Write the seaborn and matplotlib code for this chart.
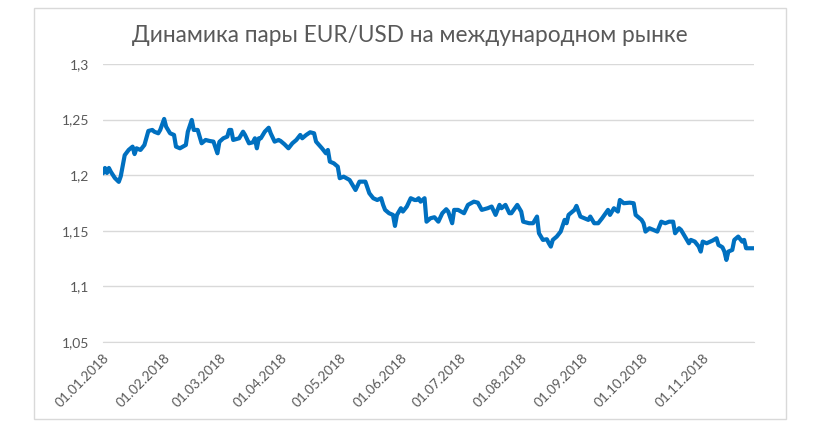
import pandas as pd
import matplotlib.pyplot as plt
import matplotlib.ticker as mticker
import seaborn as sns

# EUR/USD rate (day offset from 01.01.2018, rate)
days = [0, 1, 2, 3, 4, 6, 8, 9, 11, 13, 15, 16, 17, 19, 21, 23, 25, 26, 28, 29,
        31, 32, 34, 36, 37, 39, 42, 43, 45, 46, 48, 50, 52, 54, 56, 58, 59, 61, 63, 64,
        65, 66, 69, 71, 72, 74, 76, 77, 78, 79, 80, 82, 84, 85, 87, 89, 90, 92, 94, 96,
        98, 100, 101, 103, 105, 107, 108, 111, 113, 114, 115, 117, 119, 120, 122, 125, 127, 128, 130, 133,
        135, 137, 139, 141, 142, 143, 145, 147, 148, 149, 151, 152, 154, 156, 158, 159, 160, 161, 163, 164,
        166, 168, 170, 172, 174, 175, 177, 178, 180, 183, 185, 188, 190, 192, 195, 197, 199, 201, 202, 204,
        206, 207, 210, 212, 213, 216, 218, 220, 221, 223, 225, 226, 227, 228, 230, 232, 234, 235, 236, 239,
        240, 242, 244, 246, 247, 249, 251, 253, 256, 257, 259, 261, 262, 264, 267, 269, 270, 273, 274, 275,
        277, 279, 281, 283, 285, 287, 289, 290, 292, 293, 295, 297, 298, 300, 302, 303, 304, 306, 309, 311,
        312, 314, 315, 316, 317, 319, 320, 322, 324, 325, 326, 328, 330]
rate = [1.2017, 1.2065, 1.2020, 1.2065, 1.2030, 1.1975, 1.1940, 1.1990, 1.2180, 1.2227,
        1.2257, 1.2190, 1.2242, 1.2227, 1.2272, 1.2398, 1.2407, 1.2391, 1.2377, 1.2407,
        1.2506, 1.2436, 1.2377, 1.2362, 1.2257, 1.2242, 1.2272, 1.2391, 1.2497, 1.2407,
        1.2407, 1.2287, 1.2317, 1.2308, 1.2302, 1.2197, 1.2300, 1.2332, 1.2347, 1.2407,
        1.2407, 1.2317, 1.2332, 1.2391, 1.2362, 1.2287, 1.2296, 1.2332, 1.2242, 1.2332,
        1.2332, 1.2391, 1.2427, 1.2377, 1.2302, 1.2317, 1.2308, 1.2278, 1.2242, 1.2287,
        1.2317, 1.2362, 1.2332, 1.2362, 1.2386, 1.2377, 1.2302, 1.2242, 1.2197, 1.2227,
        1.2122, 1.2107, 1.2077, 1.1973, 1.1987, 1.1957, 1.1897, 1.1867, 1.1942, 1.1942,
        1.1838, 1.1793, 1.1777, 1.1793, 1.1733, 1.1688, 1.1658, 1.1643, 1.1544, 1.1643,
        1.1703, 1.1673, 1.1718, 1.1793, 1.1777, 1.1777, 1.1793, 1.1762, 1.1793, 1.1582,
        1.1613, 1.1622, 1.1582, 1.1658, 1.1694, 1.1673, 1.1568, 1.1688, 1.1688, 1.1658,
        1.1733, 1.1762, 1.1753, 1.1688, 1.1703, 1.1718, 1.1643, 1.1733, 1.1703, 1.1733,
        1.1658, 1.1658, 1.1733, 1.1673, 1.1582, 1.1568, 1.1568, 1.1628, 1.1478, 1.1418,
        1.1424, 1.1388, 1.1358, 1.1418, 1.1448, 1.1493, 1.1598, 1.1568, 1.1643, 1.1688,
        1.1724, 1.1628, 1.1613, 1.1598, 1.1628, 1.1568, 1.1568, 1.1613, 1.1688, 1.1643,
        1.1703, 1.1673, 1.1777, 1.1748, 1.1753, 1.1748, 1.1643, 1.1598, 1.1568, 1.1493,
        1.1523, 1.1508, 1.1493, 1.1582, 1.1568, 1.1582, 1.1582, 1.1478, 1.1523, 1.1508,
        1.1448, 1.1388, 1.1418, 1.1403, 1.1358, 1.1313, 1.1403, 1.1388, 1.1412, 1.1433,
        1.1373, 1.1352, 1.1313, 1.1238, 1.1313, 1.1328, 1.1418, 1.1448, 1.1403, 1.1418,
        1.1343, 1.1343, 1.1343]

month_ticks = ['01.01.2018', '01.02.2018', '01.03.2018', '01.04.2018', '01.05.2018', '01.06.2018',
               '01.07.2018', '01.08.2018', '01.09.2018', '01.10.2018', '01.11.2018']
y_ticks = [1.05, 1.1, 1.15, 1.2, 1.25, 1.3]

df = pd.DataFrame({'date': pd.Timestamp('2018-01-01') + pd.to_timedelta(days, unit='D'),
                   'rate': rate})

sns.set_style('white')
plt.rcParams['font.family'] = ['Lato', 'DejaVu Sans']

grey = '#595959'
fig = plt.figure(figsize=(8.2, 4.25), dpi=100)
# chart border like in Excel
fig.patches.append(plt.Rectangle((34 / 820, 1 - 419 / 425), (786 - 34) / 820, (419 - 8) / 425,
                                 transform=fig.transFigure, fill=False, edgecolor='#d9d9d9', lw=1))
ax = fig.add_axes([103 / 820, 1 - 342 / 425, (754 - 103) / 820, (342 - 64) / 425])

sns.lineplot(data=df, x='date', y='rate', ax=ax, color='#0070C0', linewidth=3)

ax.set_xlim(df['date'].iloc[0], df['date'].iloc[-1])
ax.set_ylim(1.05, 1.3)
ax.set_yticks(y_ticks)
ax.yaxis.set_major_formatter(mticker.FuncFormatter(lambda v, p: f'{v:g}'.replace('.', ',')))
tick_dates = pd.to_datetime(month_ticks, format='%d.%m.%Y')
ax.set_xticks(tick_dates)
ax.set_xticklabels(month_ticks, rotation=45, ha='right', rotation_mode='anchor')

ax.grid(axis='y', color='#d9d9d9', linewidth=1)
ax.set_axisbelow(True)
for s in ['top', 'right', 'left']:
    ax.spines[s].set_visible(False)
ax.spines['bottom'].set_color('#d9d9d9')
ax.tick_params(axis='y', length=0, labelsize=10, labelcolor=grey, pad=10)
ax.tick_params(axis='x', length=4, color='#d9d9d9', labelsize=9.8, labelcolor=grey, pad=3)
ax.set_xlabel('')
ax.set_ylabel('')

fig.text(410 / 820, 1 - 35 / 425, 'Динамика пары EUR/USD на международном рынке',
         ha='center', va='center', fontsize=16.3, color=grey)

plt.savefig('out.png', dpi=100)
